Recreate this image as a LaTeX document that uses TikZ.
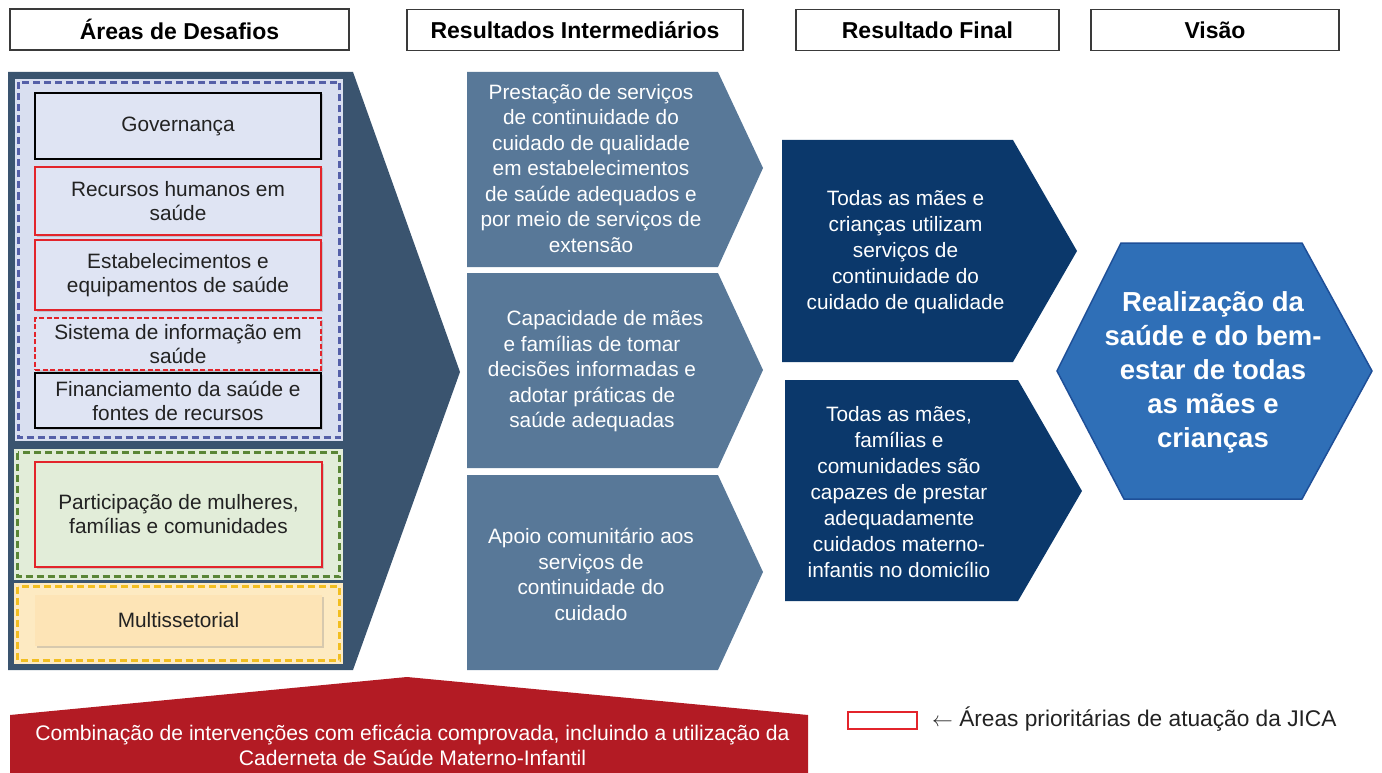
\documentclass[tikz,border=0pt]{standalone}
\usepackage{fontspec}
\setmainfont{Liberation Sans}
\usetikzlibrary{shadows}
\definecolor{panelc}{HTML}{3A546F}
\definecolor{midc}{HTML}{587898}
\definecolor{darkc}{HTML}{0B386B}
\definecolor{hexc}{HTML}{2F6FB7}
\definecolor{hexd}{HTML}{1E4F98}
\definecolor{redc}{HTML}{B31B24}
\definecolor{boxred}{HTML}{E3242B}
\definecolor{lavfill}{HTML}{D9DFF0}
\definecolor{lavbox}{HTML}{DFE4F3}
\definecolor{lavdash}{HTML}{5560A8}
\definecolor{grnfill}{HTML}{E2EDD9}
\definecolor{grndash}{HTML}{5A8636}
\definecolor{ylwfill}{HTML}{FDEAC2}
\definecolor{ylwbox}{HTML}{FDE4B6}
\definecolor{ylwdash}{HTML}{F2BE20}
\definecolor{txtdark}{HTML}{222222}
\definecolor{hdrgray}{HTML}{3A3A3A}
\begin{document}
\begin{tikzpicture}[x=1pt,y=-1pt,
  hdr/.style={draw=hdrgray, line width=1.5pt, fill=white, minimum height=41, inner sep=0pt,
    font=\fontsize{23}{28}\selectfont\bfseries, text=black},
  dashedge/.style={line width=2.6pt, dash pattern=on 7pt off 4pt},
  lbox/.style={minimum width=286, inner sep=0pt, align=center, text=txtdark,
    font=\fontsize{20.8}{24}\selectfont,
    drop shadow={shadow xshift=1.5pt, shadow yshift=-1.5pt, opacity=0.3}},
  blackbox/.style={lbox, draw=black, line width=2pt, fill=lavbox},
  redbox/.style={lbox, draw=boxred, line width=1.8pt, fill=lavbox},
  midtext/.style={align=center, text=white, inner sep=0pt, font=\fontsize{20.8}{25.5}\selectfont},
  darktext/.style={align=center, text=white, inner sep=0pt, font=\fontsize{20.8}{26}\selectfont},
  hextext/.style={align=center, text=white, inner sep=0pt, font=\fontsize{27.5}{34}\selectfont\bfseries},
]
\useasboundingbox (0,0) rectangle (1382,773);

% headers
\node[hdr, minimum width=339] (h1) at (179.5,29.5) {Áreas de Desafios};
\node[hdr, minimum width=336] (h2) at (575,30) {Resultados Intermediários};
\node[hdr, minimum width=263] (h3) at (927.5,30) {Resultado Final};
\node[hdr, minimum width=248] (h4) at (1215,30) {Visão};

% left panel
\fill[panelc] (8,72) -- (353,72) -- (460,372) -- (353,670) -- (8,670) -- cycle;
\fill[lavfill] (15,79) rectangle (343,441);
\draw[dashedge, draw=lavdash] (18.5,82.5) rectangle (339.5,437.5);
\fill[grnfill] (14,449) rectangle (343,580);
\draw[dashedge, draw=grndash] (17.5,452.5) rectangle (339.5,576.5);
\fill[ylwfill] (14,583) rectangle (343,664);
\draw[dashedge, draw=ylwdash] (17.5,586.5) rectangle (339.5,660.5);

\node[blackbox, minimum height=66] (gov) at (178,126) {Governança};
\node[redbox, minimum height=68] (rh) at (178,201) {Recursos humanos em\\saúde};
\node[redbox, minimum height=70] (est) at (178,275) {Estabelecimentos e\\equipamentos de saúde};
\node[redbox, dash pattern=on 5pt off 2.5pt, minimum height=52] (sis) at (178,344) {Sistema de informação em\\saúde};
\node[blackbox, minimum height=55] (fin) at (178,400.5) {Financiamento da saúde e\\fontes de recursos};
\node[redbox, fill=grnfill, minimum height=105, minimum width=287] (par) at (178.5,514.5) {Participação de mulheres,\\famílias e comunidades};
\node[lbox, fill=ylwbox, minimum height=51, minimum width=287] (mul) at (178.5,620.5) {Multissetorial};

% intermediate chevrons
\fill[midc] (467,72) -- (718,72) -- (763,168) -- (718,267) -- (467,267) -- cycle;
\fill[midc] (467,273) -- (718,273) -- (763,370) -- (718,468) -- (467,468) -- cycle;
\fill[midc] (467,475) -- (718,475) -- (763,572) -- (718,670) -- (467,670) -- cycle;
\node[midtext] (m1) at (591,168.5) {Prestação de serviços\\de continuidade do\\cuidado de qualidade\\em estabelecimentos\\de saúde adequados e\\por meio de serviços de\\extensão};
\node[midtext] (m2) at (592,371.5) {\hspace*{26pt}Capacidade de mães\\e famílias de tomar\\decisões informadas e\\adotar práticas de\\saúde adequadas};
\node[midtext] (m3) at (591,574.5) {Apoio comunitário aos\\serviços de\\continuidade do\\cuidado};

% final results chevrons
\fill[darkc] (782,140) -- (1013,140) -- (1077,251) -- (1013,362) -- (782,362) -- cycle;
\fill[darkc] (785,380) -- (1018,380) -- (1082,491) -- (1018,601) -- (785,601) -- cycle;
\node[darktext] (f1) at (905.5,252) {Todas as mães e\\crianças utilizam\\serviços de\\continuidade do\\cuidado de qualidade};
\node[darktext] (f2) at (899,492) {Todas as mães,\\famílias e\\comunidades são\\capazes de prestar\\adequadamente\\cuidados materno-\\infantis no domicílio};

% vision hexagon
\filldraw[fill=hexc, draw=hexd, line width=1.5pt] (1057,371) -- (1121,243) -- (1302,243) -- (1372,371) -- (1302,499) -- (1124,499) -- cycle;
\node[hextext] (vis) at (1213,372) {Realização da\\saúde e do bem-\\estar de todas\\as mães e\\crianças};

% bottom red shape
\fill[redc] (10,773) -- (10,715) -- (407,677) -- (808,715) -- (808,773) -- cycle;
\node[align=center, text=white, inner sep=0pt, font=\fontsize{21.1}{25}\selectfont] (comb) at (412.5,745.5) {Combinação de intervenções com eficácia comprovada, incluindo a utilização da\\Caderneta de Saúde Materno-Infantil};

% legend
\node[draw=boxred, line width=2pt, minimum width=69, minimum height=17, inner sep=0pt] (leg) at (882.5,720.5) {};
\node[anchor=west, inner sep=0pt, text=txtdark, font=\fontsize{22.7}{26}\selectfont] (legt) at (932,719) {$\leftarrow$ Áreas prioritárias de atuação da JICA};
\end{tikzpicture}
\end{document}
